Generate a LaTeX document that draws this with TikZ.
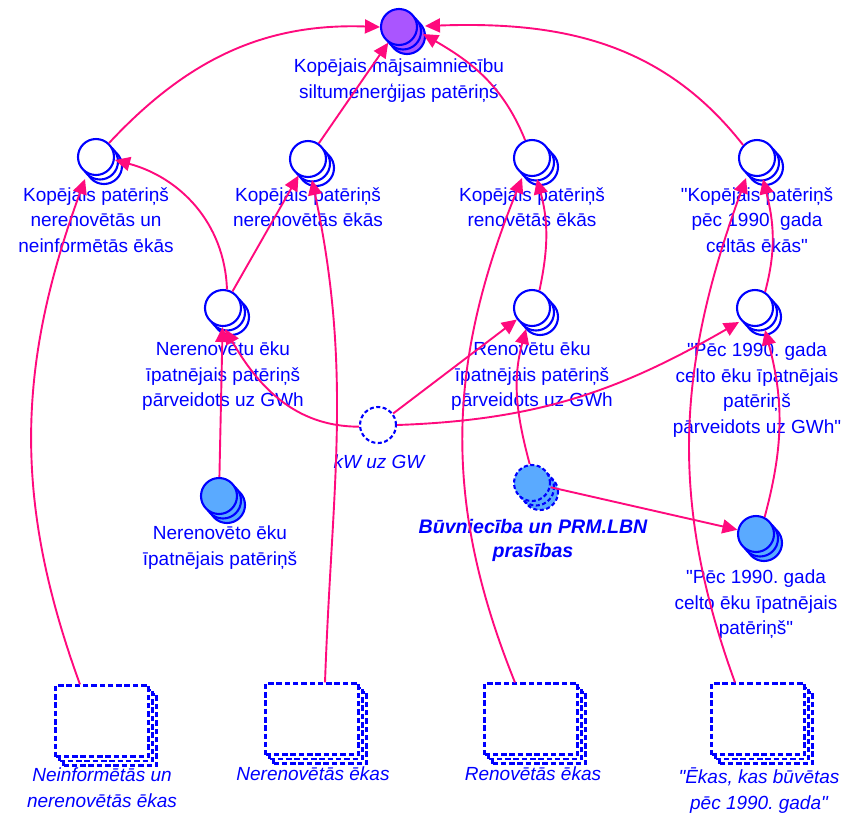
\documentclass[tikz,border=0pt]{standalone}
\usepackage{fontspec}
\setmainfont{Liberation Sans}[Ligatures=TeXOff]
\usetikzlibrary{arrows.meta,shadows}
\definecolor{inkblue}{RGB}{0,0,255}
\definecolor{linkpink}{RGB}{255,10,125}
\definecolor{paleblue}{RGB}{90,170,255}
\definecolor{violetfill}{RGB}{170,85,255}
\frenchspacing
\tikzset{
  % a node with two copies stacked behind it, down and to the right
  backcopies/.style={
    copy shadow={shadow xshift=8pt,shadow yshift=-9pt,#1},
    copy shadow={shadow xshift=4pt,shadow yshift=-4.5pt,#1}},
  ball/.style={circle,minimum size=36pt,inner sep=0pt,line width=2.1pt,
    draw=inkblue,fill=#1,
    backcopies={draw=inkblue,fill=#1,line width=2.1pt}},
  dashball/.style={circle,minimum size=36pt,inner sep=0pt,line width=2.1pt,
    draw=inkblue,fill=#1,dash pattern=on 4pt off 2.5pt,
    backcopies={draw=inkblue,fill=#1,line width=2.1pt,dash pattern=on 4pt off 2.5pt}},
  dashring/.style={circle,minimum size=36pt,inner sep=0pt,line width=2.1pt,
    draw=inkblue,fill=white,dash pattern=on 4pt off 2.5pt},
  sheets/.style={rectangle,minimum width=93pt,minimum height=71pt,inner sep=0pt,
    line width=2.1pt,draw=inkblue,fill=white,dash pattern=on 5.5pt off 2.8pt,
    backcopies={draw=inkblue,fill=white,line width=2.1pt,dash pattern=on 5.5pt off 2.8pt}},
  lbl/.style={text=inkblue,font=\fontsize{19}{25.5}\selectfont,align=center,
    anchor=north,inner sep=0pt},
  ilbl/.style={lbl,font=\fontsize{19}{25.5}\selectfont\itshape},
  blbl/.style={lbl,font=\fontsize{19.6}{24}\selectfont\bfseries\itshape},
  link/.style={draw=linkpink,line width=1.9pt,
    -{Triangle[length=15pt,width=14pt]}},
}
\begin{document}
\begin{tikzpicture}[x=1pt,y=1pt]
\useasboundingbox (0,0) rectangle (842,-812);

% totals
\node[ball=violetfill] (total) at (399,-27) {};
\node[ball=white] (sumA) at (96,-157) {};
\node[ball=white] (sumB) at (308,-159) {};
\node[ball=white] (sumC) at (532,-158) {};
\node[ball=white] (sumD) at (757,-158) {};
% specific consumption converted to GWh
\node[ball=white] (gwhA) at (223,-308) {};
\node[ball=white] (gwhB) at (532,-308) {};
\node[ball=white] (gwhC) at (755,-308) {};
\node[dashring] (conv) at (378,-425) {};
% input values
\node[ball=paleblue] (specA) at (219,-496) {};
\node[dashball=paleblue] (norm) at (532,-483) {};
\node[ball=paleblue] (specC) at (756,-534) {};
% building groups
\node[sheets] (setA) at (102,-721) {};
\node[sheets] (setB) at (312,-719) {};
\node[sheets] (setC) at (531,-719) {};
\node[sheets] (setD) at (758,-719) {};

% labels
\node[lbl] (totalL) at (399,-59) {Kopējais mājsaimniecību\\siltumenerģijas patēriņš};
\node[lbl] (sumAL) at (96,-187) {Kopējais patēriņš\\nerenovētās un\\neinformētās ēkās};
\node[lbl] (sumBL) at (308,-187) {Kopējais patēriņš\\nerenovētās ēkās};
\node[lbl] (sumCL) at (532,-187) {Kopējais patēriņš\\renovētās ēkās};
\node[lbl] (sumDL) at (757,-187) {"Kopējais patēriņš\\pēc 1990. gada\\celtās ēkās"};
\node[lbl] (gwhAL) at (223,-342) {Nerenovētu ēku\\īpatnējais patēriņš\\pārveidots uz GWh};
\node[lbl] (gwhBL) at (532,-342) {Renovētu ēku\\īpatnējais patēriņš\\pārveidots uz GWh};
\node[lbl] (gwhCL) at (757,-343) {"Pēc 1990. gada\\celto ēku īpatnējais\\patēriņš\\pārveidots uz GWh"};
\node[ilbl] (convL) at (379,-455) {kW uz GW};
\node[lbl] (specAL) at (220,-526) {Nerenovēto ēku\\īpatnējais patēriņš};
\node[blbl] (normL) at (533,-519) {Būvniecība un PRM.LBN\\prasības};
\node[lbl] (specCL) at (756,-570) {"Pēc 1990. gada\\celto ēku īpatnējais\\patēriņš"};
\node[ilbl] (setAL) at (102,-768) {Neinformētās un\\nerenovētās ēkas};
\node[ilbl] (setBL) at (313,-767) {Nerenovētās ēkas};
\node[ilbl] (setCL) at (533,-767) {Renovētās ēkas};
\node[ilbl] (setDL) at (759,-768) {"Ēkas, kas būvētas\\pēc 1990. gada"};

% connectors into the grand total
\draw[link] (sumA.47) to[out=47,in=178] (total.west);
\draw[link] (sumB) -- (total);
\draw[link] (sumC.111) to[out=112,in=-30] ([shift={(24pt,-7pt)}]total.center);
\draw[link] (sumD.137) to[out=128,in=2] ([shift={(26pt,1pt)}]total.center);

% connectors into the group totals
\draw[link] (gwhA.78) to[out=92,in=-15] ([shift={(19pt,-3pt)}]sumA.center);
\draw[link] (gwhA) -- (sumB);
\draw[link] ([xshift=-22pt]setA.north) to[out=110,in=-110] ([shift={(-11pt,-22pt)}]sumA.center);
\draw[link] ([xshift=13pt]setB.north) to[out=88,in=-78] ([shift={(4pt,-21pt)}]sumB.center);
\draw[link] ([xshift=-16pt]setC.north) to[out=112,in=-112] ([shift={(-10pt,-20pt)}]sumC.center);
\draw[link] (gwhB.67) to[out=78,in=-75] ([shift={(5pt,-21pt)}]sumC.center);
\draw[link] ([xshift=-23pt]setD.north) to[out=110,in=-110] ([shift={(-11pt,-20pt)}]sumD.center);
\draw[link] (gwhC.58) to[out=75,in=-76] ([shift={(6pt,-21pt)}]sumD.center);

% connectors into the converted values
\draw[link] (specA) -- (gwhA);
\draw[link] (conv.185) to[out=180,in=-60] ([shift={(2pt,-21pt)}]gwhA.center);
\draw[link] (conv) -- (gwhB);
\draw[link] (conv.east) to[out=2,in=210] ([shift={(-16pt,-14pt)}]gwhC.center);
\draw[link] (norm.97) to[out=105,in=-105] ([shift={(-6pt,-21pt)}]gwhB.center);
\draw[link] (norm) -- (specC);
\draw[link] (specC.63) to[out=75,in=-75] ([shift={(10pt,-22pt)}]gwhC.center);
\end{tikzpicture}
\end{document}
